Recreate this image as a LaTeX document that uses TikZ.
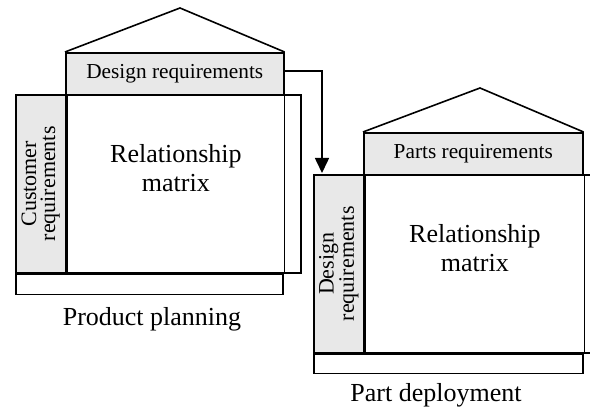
\documentclass[tikz,border=0pt]{standalone}
\usepackage{fontspec}
\setmainfont{Liberation Serif}
\usetikzlibrary{arrows.meta}
\definecolor{reqgray}{RGB}{232,232,232}

\begin{document}
\begin{tikzpicture}[
  x=1pt,
  y=-1pt,
  line width=1.6pt,
  box/.style={draw, rectangle, inner sep=0pt, anchor=north west},
  reqbox/.style={box, fill=reqgray, font=\fontsize{21.3}{21}\selectfont},
  sidetxt/.style={rotate=90, align=center, font=\fontsize{22}{19}\selectfont},
  bigtxt/.style={align=center, font=\fontsize{26}{29}\selectfont},
  flow/.style={-{Triangle[length=15pt,width=14pt]}}
]

% White background
\fill[white] (0,0) rectangle (590,411);
\useasboundingbox (0,0) rectangle (590,411);
\clip (0,0) rectangle (590,411);

% Product planning house
\node[box, minimum width=285pt, minimum height=178pt] (frame1) at (15,94) {};
\node[reqbox, minimum width=218pt, minimum height=42pt] (dr1) at (65,52) {Design requirements};
\node[reqbox, minimum width=50pt, minimum height=178pt] (cr1) at (15,94) {};
\node[box, fill=white, minimum width=217pt, minimum height=178pt] (mx1) at (cr1.north east) {};
\node[box, minimum width=267pt, minimum height=20pt] (base1) at (cr1.south west) {};
\node[sidetxt] (crtxt1) at (cr1.center) {Customer\\requirements};
\node[bigtxt] (rm1) at ([yshift=16pt]mx1.center) {Relationship\\matrix};

% Roof
\coordinate (apex1) at (180,8);
\draw (dr1.north west) -- (apex1) -- (dr1.north east);

\node[bigtxt] (cap1) at (152,319) {Product planning};

% Part deployment house
\node[box, minimum width=300pt, minimum height=178pt] (frame2) at (313,174) {};
\node[reqbox, minimum width=219pt, minimum height=42pt] (pr2) at (363,132) {Parts requirements};
\node[reqbox, minimum width=50pt, minimum height=178pt] (dr2) at (313,174) {};
\node[box, fill=white, minimum width=219pt, minimum height=178pt] (mx2) at (dr2.north east) {};
\node[box, minimum width=269pt, minimum height=19pt] (base2) at (dr2.south west) {};
\node[sidetxt] (drtxt2) at (dr2.center) {Design\\requirements};
\node[bigtxt] (rm2) at ([yshift=16pt]mx2.center) {Relationship\\matrix};

% Roof
\coordinate (apex2) at (480,88);
\draw (pr2.north west) -- (apex2) -- (pr2.north east);

\node[bigtxt] (cap2) at (436,395) {Part deployment};

% Design requirements carried over
\draw[flow] ([yshift=3pt]dr1.east) -| ([xshift=9pt,yshift=1pt]dr2.north west);

\end{tikzpicture}
\end{document}
